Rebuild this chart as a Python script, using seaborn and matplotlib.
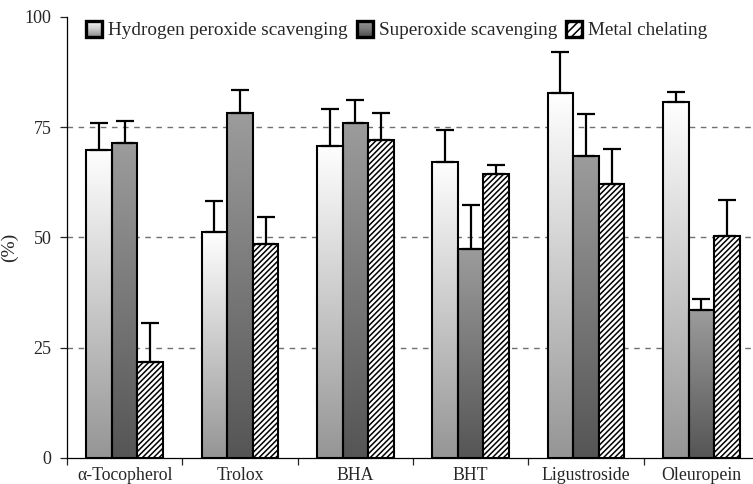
import numpy as np
import pandas as pd
import matplotlib
matplotlib.use("Agg")
import matplotlib.pyplot as plt
import seaborn as sns
from matplotlib.patches import Rectangle
from matplotlib.legend_handler import HandlerBase
from matplotlib.colors import LinearSegmentedColormap

# ---- data -------------------------------------------------------------
compounds = ["α-Tocopherol", "Trolox", "BHA", "BHT", "Ligustroside", "Oleuropein"]
assays = ["Hydrogen peroxide scavenging", "Superoxide scavenging", "Metal chelating"]

h2o2_mean = [69.8, 51.1, 70.8, 67.1, 82.6, 80.6]
h2o2_err = [6.1, 7.1, 8.3, 7.3, 9.3, 2.4]
superoxide_mean = [71.4, 78.2, 76.0, 47.4, 68.5, 33.5]
superoxide_err = [5.0, 5.1, 5.2, 10.0, 9.5, 2.5]
metal_mean = [21.8, 48.5, 72.1, 64.4, 62.0, 50.3]
metal_err = [8.7, 6.0, 6.0, 2.0, 8.0, 8.1]

y_ticks = [0, 25, 50, 75, 100]

means = [h2o2_mean, superoxide_mean, metal_mean]
errs = [h2o2_err, superoxide_err, metal_err]

df = pd.DataFrame({
    "compound": np.repeat([compounds], 3, axis=0).ravel(),
    "assay": np.repeat(assays, len(compounds)),
    "value": np.concatenate(means),
})

# ---- style ------------------------------------------------------------
sns.set_style("white")
plt.rcParams["font.family"] = ["Liberation Serif", "DejaVu Serif"]
plt.rcParams["hatch.linewidth"] = 1.1
plt.rcParams["hatch.color"] = "#2a2a2a"

# per-series gradients (top colour, bottom colour)
gradients = {
    assays[0]: ("#ffffff", "#959595"),
    assays[1]: ("#9c9c9c", "#555555"),
}

fig = plt.figure(figsize=(7.53, 4.84), dpi=100)
ax_left, ax_bottom = 67 / 753, (484 - 458) / 484
ax_w, ax_h = (759 - 67) / 753, (458 - 16.7) / 484
ax = fig.add_axes([ax_left, ax_bottom, ax_w, ax_h])

sns.barplot(data=df, x="compound", y="value", hue="assay", order=compounds,
            hue_order=assays, width=0.667, gap=0, errorbar=None,
            palette=["white", "white", "white"], edgecolor="black",
            linewidth=1.5, legend=False, ax=ax, zorder=2)

xlim = (-0.5, 5.5)
ylim = (0, 100)

for cont, assay, err in zip(ax.containers, assays, errs):
    xs, tops = [], []
    for bar in cont:
        x0, w, h = bar.get_x(), bar.get_width(), bar.get_height()
        xs.append(x0 + w / 2)
        tops.append(h)
        if assay in gradients:
            top_c, bot_c = gradients[assay]
            cmap = LinearSegmentedColormap.from_list("g", [bot_c, top_c])
            grad = np.linspace(0, 1, 256).reshape(-1, 1)
            im = ax.imshow(grad, cmap=cmap, origin="lower", aspect="auto",
                           extent=[x0, x0 + w, 0, h], zorder=1.5,
                           interpolation="bilinear")
            im.set_clip_path(bar)
            bar.set_facecolor("none")
        else:
            bar.set_facecolor("white")
            bar.set_hatch("//////")
    ax.errorbar(xs, tops, yerr=[np.zeros(len(err)), err], fmt="none",
                ecolor="black", elinewidth=1.6, capsize=6.5, capthick=1.6,
                zorder=3)

ax.set_xlim(*xlim)
ax.set_ylim(*ylim)

# dashed reference lines
for yv in y_ticks[1:-1]:
    ax.axhline(yv, color="#707070", linewidth=1.0, linestyle=(0, (4, 4)),
               zorder=0.5)

# axes decoration
for side in ["top", "right"]:
    ax.spines[side].set_visible(False)
for side in ["left", "bottom"]:
    ax.spines[side].set_linewidth(0.9)
    ax.spines[side].set_color("black")

ax.set_yticks(y_ticks)
ax.set_yticklabels([str(t) for t in y_ticks], fontsize=13)
ax.tick_params(axis="y", direction="out", length=5, width=0.9, pad=6, left=True)

ax.set_xticks(range(len(compounds)))
ax.set_xticklabels(compounds, fontsize=12.8)
ax.tick_params(axis="x", which="major", length=0, pad=6.3)
ax.set_xticks(np.arange(-0.5, len(compounds) + 0.5, 1), minor=True)
ax.tick_params(axis="x", which="minor", direction="out", length=5, width=0.9,
               bottom=True)

ax.set_xlabel("")
ax.set_ylabel("(%)", fontsize=14)
ax.yaxis.set_label_coords(-0.071, 0.478)


# legend with gradient swatches
class GradientHandler(HandlerBase):
    def __init__(self, top, bottom, n=14):
        super().__init__()
        self.top, self.bottom, self.n = top, bottom, n

    def create_artists(self, legend, orig_handle, xdescent, ydescent, width,
                       height, fontsize, trans):
        side = min(width, height)
        x0 = -xdescent + (width - side) / 2
        y0 = -ydescent + (height - side) / 2
        cmap = LinearSegmentedColormap.from_list("g", [self.bottom, self.top])
        arts = []
        for i in range(self.n):
            r = Rectangle((x0, y0 + side * i / self.n), side, side / self.n,
                          facecolor=cmap(i / (self.n - 1)), edgecolor="none",
                          transform=trans)
            arts.append(r)
        arts.append(Rectangle((x0, y0), side, side, facecolor="none",
                              edgecolor="black", linewidth=2.4, transform=trans))
        return arts


class HatchHandler(HandlerBase):
    def create_artists(self, legend, orig_handle, xdescent, ydescent, width,
                       height, fontsize, trans):
        side = min(width, height)
        x0 = -xdescent + (width - side) / 2
        y0 = -ydescent + (height - side) / 2
        return [Rectangle((x0, y0), side, side, facecolor="white",
                          edgecolor="black", hatch="////", linewidth=2.4,
                          transform=trans)]


handles = [Rectangle((0, 0), 1, 1) for _ in assays]
handler_map = {
    handles[0]: GradientHandler(*gradients[assays[0]]),
    handles[1]: GradientHandler(*gradients[assays[1]]),
    handles[2]: HatchHandler(),
}
fig.legend(handles, assays, handler_map=handler_map, ncol=3, frameon=False,
           loc="center", bbox_to_anchor=(396.5 / 753, 1 - 30 / 484),
           fontsize=13.8, handlelength=0.9, handleheight=0.9,
           handletextpad=0.28, columnspacing=0.45, borderpad=0)

fig.savefig("out.png", dpi=100)
